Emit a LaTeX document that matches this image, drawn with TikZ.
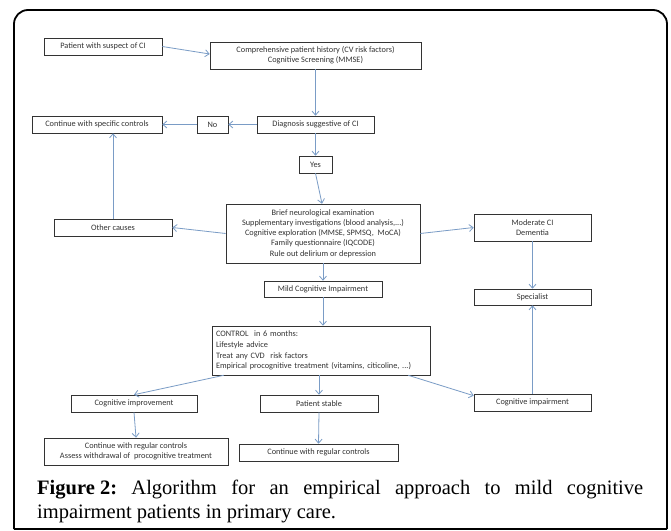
\documentclass[tikz,border=0pt]{standalone}
\usepackage{fontspec}
\setmainfont{Liberation Serif}
\newfontfamily\boxfont{Carlito}
\usetikzlibrary{arrows.meta,calc}
\definecolor{arrowblue}{HTML}{7A9CC6}
\definecolor{boxtext}{HTML}{333333}
\tikzset{
  box/.style={draw=black!80, line width=0.6pt, fill=white, inner sep=1pt,
    font=\boxfont\fontsize{8.3}{10.2}\selectfont, text=boxtext, align=center},
  conn/.style={draw=arrowblue, line width=0.8pt, -{Straight Barb[length=4pt,width=7pt]}},
}
\begin{document}
\begin{tikzpicture}[x=1pt,y=-1pt]
\useasboundingbox (0,0) rectangle (671,530);
\fill[white] (0,0) rectangle (671,530);
\draw[line width=1.8pt, rounded corners=14pt] (14,529) -- (14,10) -- (667,10) -- (667,529);
\draw[line width=1.8pt] (14,529) -- (667,529);

\node[box, minimum width=118, minimum height=17] (p1) at (103,46.5) {Patient with suspect of CI};
\node[box, minimum width=211, minimum height=27] (p2) at (315.5,55.5) {Comprehensive patient history (CV risk factors)\\Cognitive Screening (MMSE)};
\node[box, minimum width=117, minimum height=17] (diag) at (315.5,124.5) {Diagnosis suggestive of CI};
\node[box, minimum width=31, minimum height=17] (no) at (212.5,124.5) {No};
\node[box, minimum width=130, minimum height=17] (cont) at (97,124.5) {Continue with specific controls};
\node[box, minimum width=33, minimum height=17] (yes) at (315.5,164.5) {Yes};
\node[box, minimum width=194, minimum height=59] (big) at (323,233.5) {Brief neurological examination\\Supplementary investigations (blood analysis,...)\\Cognitive exploration (MMSE, SPMSQ,\ \ MoCA)\\Family questionnaire (IQCODE)\\Rule out delirium or depression};
\node[box, minimum width=118, minimum height=17] (other) at (113,227.5) {Other causes};
\node[box, minimum width=117, minimum height=27] (mod) at (532.5,227.5) {Moderate CI\\Dementia};
\node[box, minimum width=117, minimum height=16] (spec) at (532.5,297) {Specialist};
\node[box, minimum width=118, minimum height=16] (mild) at (323,289) {Mild Cognitive Impairment};
\node[box, minimum width=218, minimum height=49, align=left, text width=210, inner sep=4pt, font=\boxfont\fontsize{8.3}{10.7}\selectfont] (ctrl) at (321,350.5) {CONTROL\ \ in 6 months:\\Lifestyle advice\\Treat any CVD\ \ risk factors\\Empirical procognitive treatment (vitamins, citicoline, ...)};
\node[box, minimum width=126, minimum height=17] (imp) at (134,403.5) {Cognitive improvement};
\node[box, minimum width=118, minimum height=17] (stable) at (319,403.5) {Patient stable};
\node[box, minimum width=117, minimum height=17] (cimp) at (532.5,402.5) {Cognitive impairment};
\node[box, minimum width=184, minimum height=27] (reg2) at (136,451.5) {Continue with regular controls\\Assess withdrawal of\ \ procognitive treatment};
\node[box, minimum width=159, minimum height=17] (reg1) at (318.5,452.5) {Continue with regular controls};

\draw[conn] (p1.east) -- ([yshift=1.5pt]p2.west);
\draw[conn] (p2.south) -- (diag.north);
\draw[conn] (diag.west) -- (no.east);
\draw[conn] (no.west) -- (cont.east);
\draw[conn] (diag.south) -- (yes.north);
\draw[conn] (yes.south) -- ([xshift=-1pt]big.north);
\draw[conn] (big.west) -- (other.east);
\draw[conn] (other.north) -- (other.north |- cont.south);
\draw[conn] (big.east) -- (mod.west);
\draw[conn] (mod.south) -- (spec.north);
\draw[conn] (big.south) -- (mild.north);
\draw[conn] (mild.south) -- (mild.south |- ctrl.north);
\draw[conn] ([xshift=12pt]ctrl.south west) -- (imp.north);
\draw[conn] (stable.north |- ctrl.south) -- (stable.north);
\draw[conn] ([xshift=-22pt]ctrl.south east) -- ([yshift=-2pt]cimp.north west);
\draw[conn] (cimp.north) -- (spec.south);
\draw[conn] (imp.south) -- (reg2.north);
\draw[conn] (stable.south) -- (reg1.north);

\node[anchor=base west, inner sep=0pt, font=\fontsize{20.5}{23}\selectfont] (cap1) at (37,494)
  {\makebox[606pt][s]{\textbf{Figure 2:}\hfill Algorithm\hfill for\hfill an\hfill empirical\hfill approach\hfill to\hfill mild\hfill cognitive}};
\node[anchor=base west, inner sep=0pt, font=\fontsize{20.5}{23}\selectfont] (cap2) at (37,518)
  {impairment patients in primary care.};
\end{tikzpicture}
\end{document}
